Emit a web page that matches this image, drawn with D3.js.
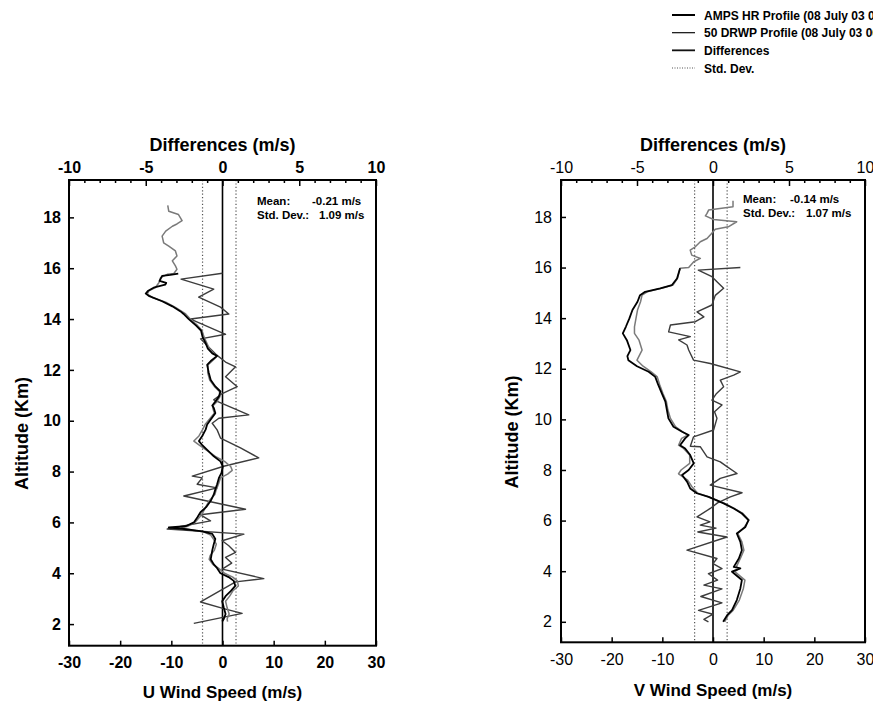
<!DOCTYPE html>
<html><head><meta charset="utf-8">
<script src="https://cdn.jsdelivr.net/npm/d3@7"></script>
<style>
html,body{margin:0;padding:0;background:#fff;}
svg{display:block;font-family:"Liberation Sans",Arial,Helvetica,sans-serif;}
</style></head>
<body>
<svg id="chart" width="873" height="707"></svg>
<script>
// ---------------- DATA ----------------
const legendLabels = ["AMPS HR Profile (08 July 03 06 UTC)", "50 DRWP Profile (08 July 03 06 UTC)", "Differences", "Std. Dev."];
const speedTicks = [-30, -20, -10, 0, 10, 20, 30];
const diffTicks = [-10, -5, 0, 5, 10];
const altTicks = [2, 4, 6, 8, 10, 12, 14, 16, 18];
const statsU = {mean: -0.21, std: 1.09};
const statsV = {mean: -0.14, std: 1.07};
const titleTop = "Differences (m/s)";
const titleAlt = "Altitude (Km)";
const titleU = "U Wind Speed (m/s)";
const titleV = "V Wind Speed (m/s)";

// [altitude km, value m/s]
const uDrwp = [[18.47,-10.7],[18.24,-10.5],[18.11,-8.6],[17.87,-7.9],[17.74,-8.9],[17.65,-9.8],[17.46,-11.1],[17.26,-11.8],[17.0,-11.5],[16.87,-10.5],[16.68,-9.2],[16.48,-8.9],[16.29,-9.8],[16.09,-9.2],[15.96,-8.9],[15.79,-9.5],[15.76,-10.8],[15.63,-12.1],[15.44,-12.4],[15.24,-13.1],[15.11,-14.4],[14.98,-14.7],[14.85,-13.7],[14.66,-11.1],[14.46,-9.2],[14.2,-7.2],[14.0,-6.3],[13.75,-4.9],[13.55,-4.0],[13.29,-3.6],[13.03,-3.0],[12.85,-2.6],[12.65,-1.8],[12.55,-1.0],[12.35,-2.0],[12.2,-2.8],[11.9,-2.9],[11.6,-2.5],[11.35,-1.6],[11.15,-0.6],[10.95,-0.5],[10.75,-1.1],[10.6,-1.8],[10.5,-1.9],[10.3,-1.6],[10.05,-2.6],[9.85,-3.4],[9.65,-3.9],[9.4,-4.6],[9.2,-5.6],[9.05,-4.6],[8.85,-3.2],[8.6,-1.4],[8.4,0.4],[8.2,1.6],[8.05,1.9],[7.9,1.0],[7.75,-0.4],[7.5,-0.8],[7.3,-1.2],[7.1,-1.5],[6.85,-2.6],[6.6,-3.3],[6.4,-3.8],[6.2,-4.5],[6.0,-5.4],[5.85,-6.8],[5.78,-8.0],[5.7,-6.0],[5.62,-3.6],[5.5,-2.3],[5.35,-1.8],[5.15,-1.2],[4.9,-1.6],[4.7,-2.4],[4.55,-2.6],[4.35,-1.9],[4.2,-0.8],[4.0,0.4],[3.85,2.0],[3.7,2.9],[3.5,3.1],[3.3,2.0],[3.1,1.4],[2.9,0.6],[2.65,0.9],[2.4,1.3],[2.2,0.9],[2.1,1.0]];

const uAmps = [[15.79,-8.65],[15.74,-10.2],[15.7,-11.8],[15.5,-12.3],[15.42,-11.0],[15.35,-11.2],[15.25,-13.3],[15.1,-14.6],[15.0,-15.0],[14.9,-14.3],[14.7,-11.8],[14.5,-9.8],[14.3,-8.2],[14.2,-7.6],[14.0,-6.6],[13.75,-5.2],[13.55,-4.2],[13.3,-3.9],[13.05,-3.3],[12.85,-2.9],[12.65,-2.0],[12.55,-1.05],[12.35,-2.3],[12.2,-3.0],[11.9,-2.7],[11.6,-2.3],[11.35,-1.4],[11.15,-0.4],[10.95,-0.7],[10.75,-1.4],[10.6,-2.0],[10.5,-1.7],[10.3,-1.4],[10.05,-2.3],[9.85,-3.0],[9.65,-3.3],[9.4,-3.96],[9.2,-4.6],[9.05,-4.0],[8.85,-3.0],[8.6,-1.7],[8.4,-0.4],[8.2,0.06],[7.95,-0.2],[7.75,-0.7],[7.5,-1.05],[7.3,-1.4],[7.1,-1.7],[6.85,-2.3],[6.6,-3.2],[6.4,-4.3],[6.2,-4.9],[6.0,-5.6],[5.85,-7.2],[5.8,-10.5],[5.75,-7.9],[5.65,-3.96],[5.55,-2.0],[5.35,-1.4],[5.15,-1.7],[4.9,-2.0],[4.55,-2.3],[4.35,-1.7],[4.2,-1.05],[4.0,-0.4],[3.85,1.2],[3.7,2.2],[3.5,2.5],[3.3,1.6],[3.1,0.6],[2.9,-0.06],[2.65,0.25],[2.4,0.6],[2.2,0.25],[2.1,-0.06]];

const uDiff = [[15.8,0.0],[15.57,-2.7],[15.18,-0.57],[14.86,-1.55],[14.47,-0.13],[14.2,0.41],[14.0,-2.08],[13.4,0.2],[13.22,-1.43],[12.57,-0.35],[12.31,0.2],[12.12,0.85],[11.73,0.2],[11.34,0.96],[11.07,-0.02],[10.82,-0.57],[10.23,1.71],[10.1,-0.24],[9.9,-0.67],[9.64,-0.35],[9.32,-0.13],[8.93,1.17],[8.54,2.36],[8.21,0.08],[7.82,-1.97],[7.75,-1.32],[7.5,-1.65],[7.36,-0.35],[7.04,-2.52],[6.52,1.5],[6.3,-1.43],[6.06,-0.78],[5.74,-3.6],[5.54,1.39],[5.28,-0.02],[5.08,0.41],[4.82,0.85],[4.62,0.2],[4.4,0.6],[4.16,-0.02],[3.79,2.69],[3.66,0.85],[2.87,-1.43],[2.61,0.08],[2.42,1.28],[2.03,-1.87]];

const vDrwp = [[18.64,3.95],[18.4,3.95],[18.27,-0.87],[18.14,-1.18],[18.04,-1.5],[17.9,0.12],[17.81,4.68],[17.61,3.02],[17.51,0.45],[17.3,-0.5],[17.15,-1.18],[17.02,-2.5],[16.82,-3.5],[16.69,-4.5],[16.49,-4.2],[16.36,-2.5],[16.23,-3.8],[16.0,-4.8],[15.97,-6.5],[15.57,-7.0],[15.31,-7.9],[15.18,-10.2],[15.04,-13.0],[14.91,-14.0],[14.65,-14.3],[14.32,-14.9],[13.99,-15.2],[13.66,-15.5],[13.4,-15.5],[13.13,-14.6],[12.74,-14.0],[12.34,-15.0],[12.1,-13.8],[11.88,-12.2],[11.68,-11.0],[11.36,-10.5],[11.03,-9.9],[10.7,-9.2],[10.37,-8.9],[10.04,-8.4],[9.71,-7.4],[9.51,-6.0],[9.38,-5.0],[9.25,-6.2],[8.98,-6.8],[8.85,-5.8],[8.59,-4.6],[8.26,-4.6],[8.0,-6.3],[7.85,-6.8],[7.6,-5.0],[7.35,-4.2],[7.08,-3.0],[6.94,-0.9],[6.68,2.3],[6.48,4.2],[6.28,5.9],[6.02,7.1],[5.75,6.2],[5.49,4.9],[5.16,5.7],[4.83,6.1],[4.5,5.4],[4.17,4.6],[4.11,5.2],[3.98,4.3],[3.65,6.3],[3.32,6.0],[2.86,5.2],[2.46,4.0],[2.26,3.0],[2.0,2.3]];

const vAmps = [[15.97,-6.5],[15.57,-7.1],[15.31,-8.1],[15.18,-10.4],[15.04,-13.4],[14.91,-14.4],[14.65,-14.9],[14.32,-15.9],[13.99,-16.5],[13.66,-17.2],[13.4,-17.8],[13.13,-17.0],[12.74,-16.3],[12.5,-16.9],[12.34,-16.7],[12.1,-15.0],[11.88,-12.7],[11.68,-11.4],[11.36,-10.8],[11.03,-10.1],[10.7,-9.4],[10.37,-9.1],[10.04,-8.8],[9.71,-7.8],[9.51,-6.1],[9.38,-4.8],[9.25,-5.5],[8.98,-6.5],[8.85,-5.5],[8.59,-4.5],[8.26,-3.8],[8.0,-4.8],[7.8,-6.1],[7.53,-5.1],[7.27,-4.5],[7.08,-3.2],[6.94,-0.87],[6.68,2.1],[6.48,4.1],[6.28,5.7],[6.02,7.0],[5.75,6.4],[5.49,4.7],[5.16,5.4],[4.83,5.7],[4.5,5.1],[4.17,4.1],[4.11,5.4],[3.98,3.75],[3.65,5.7],[3.32,5.4],[2.86,4.7],[2.46,3.75],[2.26,2.8],[2.0,2.0]];

const vDiff = [[16.0,1.8],[15.9,-0.97],[15.64,-0.07],[15.44,0.26],[15.18,0.7],[14.9,0.15],[14.52,-0.07],[14.25,-1.05],[14.05,-0.6],[13.86,-1.16],[13.73,-2.8],[13.46,-2.92],[13.27,-1.49],[13.14,-2.26],[12.94,-1.71],[12.74,-1.6],[12.34,-1.28],[12.21,-0.18],[11.88,1.8],[11.75,1.36],[11.55,0.48],[11.29,0.7],[11.0,0.2],[10.76,-0.07],[10.57,0.59],[10.3,0.1],[10.04,0.26],[9.58,0.04],[9.31,-1.28],[8.94,-1.49],[8.92,-0.84],[8.52,-0.39],[8.32,0.48],[8.13,0.92],[7.86,1.58],[7.67,0.48],[7.4,-0.18],[7.1,1.91],[6.94,1.14],[6.7,0.3],[6.48,-0.18],[6.15,-1.05],[5.95,-0.2],[5.82,-0.84],[5.7,0.2],[5.55,-1.0],[5.35,0.92],[4.83,-1.71],[4.5,0.26],[4.3,0.0],[4.1,0.59],[3.9,-0.3],[3.65,0.3],[3.45,-0.6],[3.3,0.59],[3.0,-0.8],[2.75,0.59],[2.45,-0.95],[2.3,0.0],[2.1,-0.6],[2.0,-0.3]];

// ---------------- DRAW ----------------
const svg = d3.select("#chart");
const FONT = '"Liberation Sans",Arial,Helvetica,sans-serif';
const C_AMPS = "#000", C_DRWP = "#7a7a7a", C_DIFF = "#3c3c3c", C_STD = "#555";
const hyph = d => String(d); // plain hyphen-minus like the original

function panel(cfg) {
  const g = svg.append("g");
  const x = d3.scaleLinear().domain([-30, 30]).range([cfg.x0, cfg.x1]);
  const xd = d3.scaleLinear().domain([-10, 10]).range([cfg.x0, cfg.x1]);
  const y = d3.scaleLinear().domain(cfg.alt).range([cfg.y1, cfg.y0]);
  const fw = cfg.bold ? "bold" : "normal";

  // std dev dotted lines
  [cfg.stats.mean - cfg.stats.std, cfg.stats.mean + cfg.stats.std].forEach(v => {
    g.append("line").attr("x1", xd(v)).attr("x2", xd(v)).attr("y1", cfg.y0).attr("y2", cfg.y1)
      .attr("stroke", C_STD).attr("stroke-width", 1.2).attr("stroke-dasharray", "1.2,2.2");
  });
  // zero line
  g.append("line").attr("x1", x(0)).attr("x2", x(0)).attr("y1", cfg.y0).attr("y2", cfg.y1)
    .attr("stroke", "#000").attr("stroke-width", 1.6);

  const lp = d3.line().x(d => x(d[1])).y(d => y(d[0]));
  const ld = d3.line().x(d => xd(d[1])).y(d => y(d[0]));
  g.append("path").attr("d", ld(cfg.diff)).attr("fill", "none").attr("stroke", C_DIFF).attr("stroke-width", 1.4).attr("stroke-linejoin", "round");
  g.append("path").attr("d", lp(cfg.drwp)).attr("fill", "none").attr("stroke", C_DRWP).attr("stroke-width", 1.5).attr("stroke-linejoin", "round");
  g.append("path").attr("d", lp(cfg.amps)).attr("fill", "none").attr("stroke", C_AMPS).attr("stroke-width", 1.8).attr("stroke-linejoin", "round");

  // box
  g.append("rect").attr("x", cfg.x0).attr("y", cfg.y0).attr("width", cfg.x1 - cfg.x0).attr("height", cfg.y1 - cfg.y0)
    .attr("fill", "none").attr("stroke", "#000").attr("stroke-width", 2);

  // bottom axis
  g.append("g").attr("transform", `translate(0,${cfg.y1})`)
    .call(d3.axisBottom(x).tickValues(speedTicks).tickSizeInner(-5).tickSizeOuter(0).tickPadding(11).tickFormat(hyph));
  // top axis (major)
  g.append("g").attr("transform", `translate(0,${cfg.y0})`)
    .call(d3.axisTop(xd).tickValues(diffTicks).tickSizeInner(-6).tickSizeOuter(0).tickPadding(7).tickFormat(hyph));
  // top axis minor
  g.append("g").attr("transform", `translate(0,${cfg.y0})`)
    .call(d3.axisTop(xd).tickValues(d3.range(-9, 10, 1).filter(v => v % 5 !== 0)).tickSizeInner(-3).tickSizeOuter(0).tickFormat(""));
  // left axis
  g.append("g").attr("transform", `translate(${cfg.x0},0)`)
    .call(d3.axisLeft(y).tickValues(altTicks).tickSizeInner(-5).tickSizeOuter(0).tickPadding(cfg.lpad).tickFormat(hyph));

  g.selectAll(".domain").remove();
  g.selectAll(".tick line").attr("stroke", "#000").attr("stroke-width", 1.5);
  g.selectAll(".tick text").attr("font-family", FONT).attr("font-size", 16).attr("font-weight", fw).attr("fill", "#000");

  // titles
  g.append("text").attr("x", xd(0)).attr("y", 151).attr("text-anchor", "middle")
    .attr("font-family", FONT).attr("font-size", 18).attr("font-weight", "bold").text(titleTop);
  g.append("text").attr("x", x(0)).attr("y", cfg.xtY).attr("text-anchor", "middle")
    .attr("font-family", FONT).attr("font-size", 17).attr("font-weight", "bold").text(cfg.xtitle);
  g.append("text").attr("transform", `translate(${cfg.ytX},${y(9.5)}) rotate(-90)`).attr("text-anchor", "middle")
    .attr("font-family", FONT).attr("font-size", 18).attr("font-weight", "bold").text(titleAlt);

  // stats
  const st = g.append("g").attr("font-family", FONT).attr("font-size", 11.5).attr("font-weight", "bold");
  st.append("text").attr("x", cfg.sx).attr("y", cfg.sy).text("Mean:");
  st.append("text").attr("x", cfg.sx + cfg.mvx).attr("y", cfg.sy).text(cfg.stats.mean.toFixed(2) + " m/s");
  st.append("text").attr("x", cfg.sx).attr("y", cfg.sy + 13.5).text("Std. Dev.:");
  st.append("text").attr("x", cfg.sx + cfg.svx).attr("y", cfg.sy + 13.5).text(cfg.stats.std.toFixed(2) + " m/s");
}

panel({x0: 69, x1: 376, y0: 180, y1: 645.7, alt: [1.15, 19.47], bold: true, lpad: 8,
  amps: uAmps, drwp: uDrwp, diff: uDiff, stats: statsU, xtitle: titleU, xtY: 698, ytX: 28,
  sx: 257, sy: 205, mvx: 55, svx: 62});
panel({x0: 561, x1: 865, y0: 180, y1: 642.3, alt: [1.19, 19.46], bold: false, lpad: 9,
  amps: vAmps, drwp: vDrwp, diff: vDiff, stats: statsV, xtitle: titleV, xtY: 696, ytX: 518,
  sx: 743, sy: 203, mvx: 47, svx: 63});

// legend
const lg = svg.append("g").attr("font-family", FONT).attr("font-size", 12).attr("font-weight", "bold");
const lstyles = [
  {c: C_AMPS, w: 2, dash: null},
  {c: "#222", w: 1.3, dash: null},
  {c: "#111", w: 1.8, dash: null},
  {c: C_STD, w: 1.2, dash: "1,1.5"}
];
const ly = d3.scalePoint().domain(legendLabels).range([15, 68]);
legendLabels.forEach((t, i) => {
  lg.append("line").attr("x1", 672).attr("x2", 695).attr("y1", ly(t)).attr("y2", ly(t))
    .attr("stroke", lstyles[i].c).attr("stroke-width", lstyles[i].w).attr("stroke-dasharray", lstyles[i].dash);
  lg.append("text").attr("x", 704).attr("y", ly(t) + 4.5).text(t);
});
</script>
</body></html>
